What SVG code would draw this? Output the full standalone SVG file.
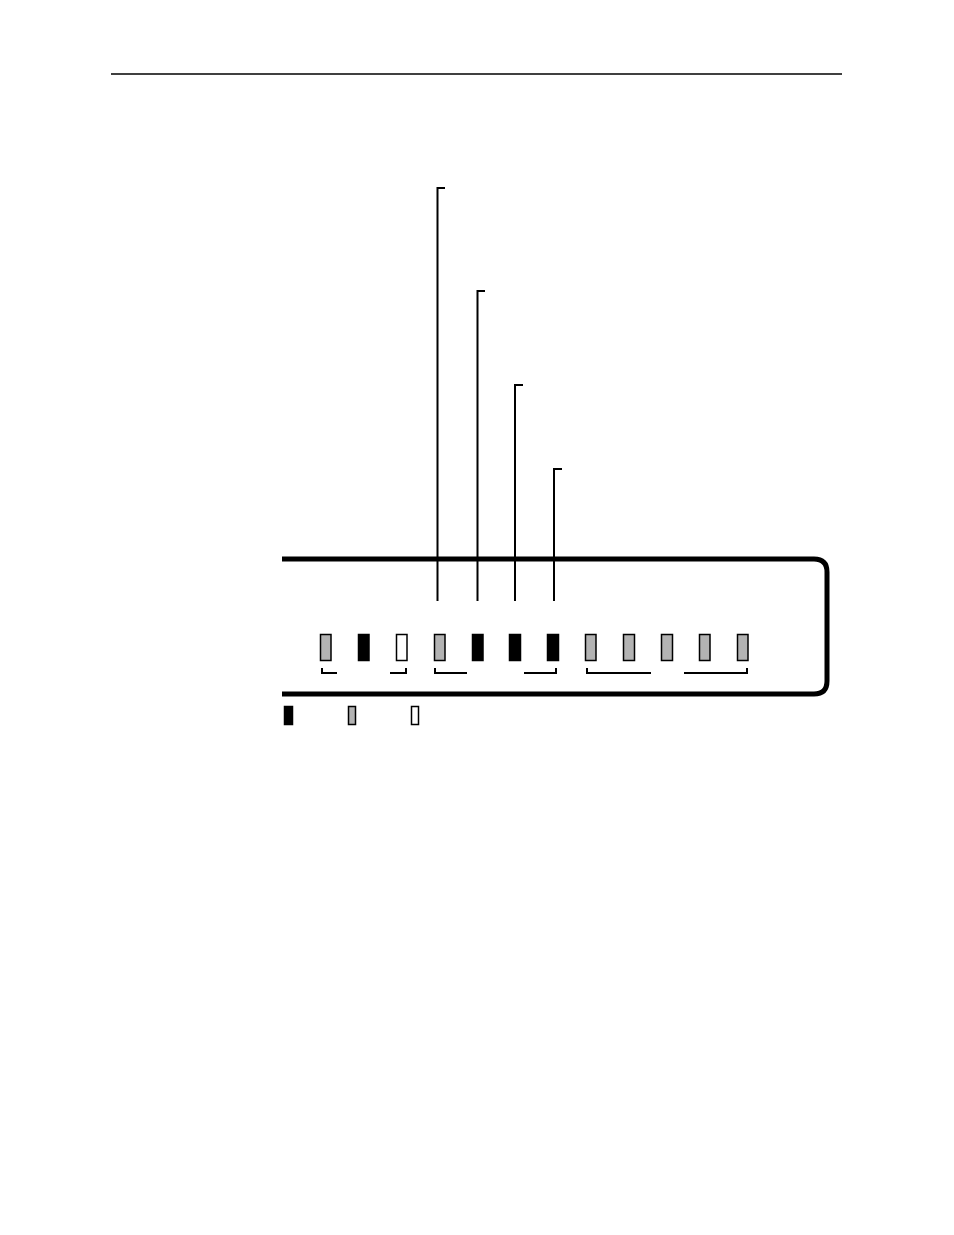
<svg xmlns="http://www.w3.org/2000/svg" width="954" height="1235" viewBox="0 0 954 1235">
<style>
.rule{stroke:#000;stroke-width:1.3;fill:none}
.panel{stroke:#000;stroke-width:5;fill:none}
.lead{stroke:#000;stroke-width:2;fill:none}
.br{stroke:#000;stroke-width:2;fill:none}
.led{stroke:#000;stroke-width:1.5}
.on{fill:#000}
.blink{fill:#b3b3b3}
.off{fill:#fff}
</style>
<rect width="954" height="1235" fill="#fff"/>
<line class="rule" x1="111" y1="74" x2="842" y2="74"/>
<g id="panel">
<path class="panel" d="M282 559 H814 Q827 559 827 572 V681 Q827 694 814 694 H282"/>
</g>
<g id="connectors">
<path class="lead" d="M445 188 H437.5 V601"/>
<path class="lead" d="M485 291 H477.5 V601"/>
<path class="lead" d="M523 385 H515 V601"/>
<path class="lead" d="M562 469 H554 V601"/>
<path class="br" d="M322 668 V673 H337"/>
<path class="br" d="M390 673 H406 V668"/>
<path class="br" d="M435 668 V673 H467"/>
<path class="br" d="M524 673 H556 V668"/>
<path class="br" d="M587 668 V673 H651"/>
<path class="br" d="M684 673 H747 V668"/>
</g>
<g id="leds">
<rect id="led1" class="led blink" x="320.5" y="634.5" width="10.5" height="26"/>
<rect id="led2" class="led on" x="358.5" y="634.5" width="10.5" height="26"/>
<rect id="led3" class="led off" x="396.5" y="634.5" width="10.5" height="26"/>
<rect id="led4" class="led blink" x="434.5" y="634.5" width="10.5" height="26"/>
<rect id="led5" class="led on" x="472.5" y="634.5" width="10.5" height="26"/>
<rect id="led6" class="led on" x="509.5" y="634.5" width="11" height="26"/>
<rect id="led7" class="led on" x="547.5" y="634.5" width="11" height="26"/>
<rect id="led8" class="led blink" x="585.5" y="634.5" width="10.5" height="26"/>
<rect id="led9" class="led blink" x="623.5" y="634.5" width="11" height="26"/>
<rect id="led10" class="led blink" x="661.5" y="634.5" width="11" height="26"/>
<rect id="led11" class="led blink" x="699.5" y="634.5" width="10.5" height="26"/>
<rect id="led12" class="led blink" x="737.5" y="634.5" width="10.5" height="26"/>
</g>
<g id="legend">
<rect class="led on" x="284.5" y="706.5" width="8" height="18"/>
<rect class="led blink" x="348.5" y="706.5" width="7" height="18"/>
<rect class="led off" x="411.5" y="706.5" width="7" height="18"/>
</g>
</svg>
